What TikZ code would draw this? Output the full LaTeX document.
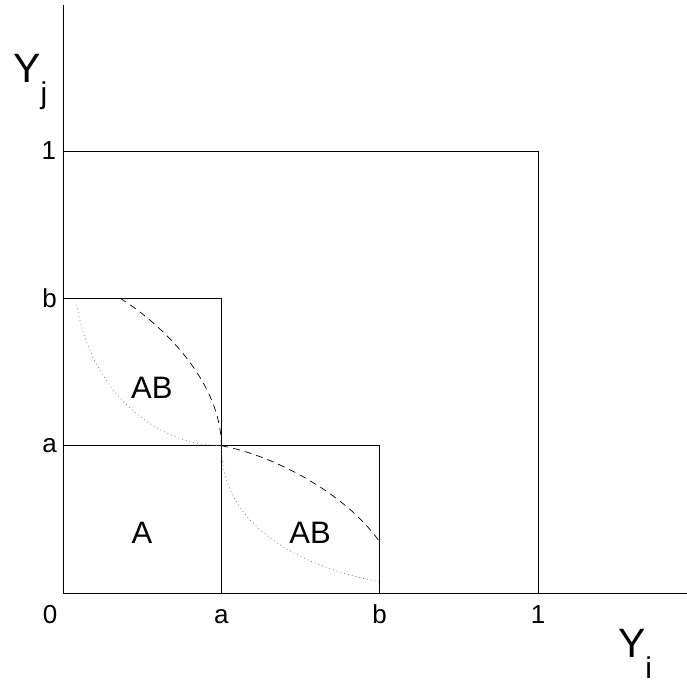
\documentclass[tikz,border=0pt]{standalone}
\usepackage{fontspec}
\setmainfont{Liberation Sans}
\usepackage{tikz}
\usetikzlibrary{positioning, calc}
\tikzset{
  frame/.style={line width=0.8pt, color=black},
  dashcurve/.style={line width=0.7pt, color=black, dash pattern=on 7pt off 5pt},
  dotcurve/.style={line width=0.7pt, color=black!60, dash pattern=on 0.7pt off 3.2pt},
  ticklbl/.style={inner sep=0pt, font=\fontsize{26}{26}\selectfont},
  region/.style={inner sep=0pt, font=\fontsize{31}{31}\selectfont},
  axislbl/.style={inner sep=0pt, anchor=base west, font=\fontsize{41}{41}\selectfont}
}
\newcommand{\axsub}[1]{\raisebox{-21pt}{\fontsize{30}{30}\selectfont #1}}

\begin{document}
\begin{tikzpicture}[x=475pt, y=442pt]
  \useasboundingbox (-0.13263,-0.20588) rectangle (1.31368,1.34163);
  % corner points
  \coordinate (O) at (0,0);
  \coordinate (aa) at (1/3,1/3);
  \coordinate (ab) at (1/3,2/3);
  \coordinate (ba) at (2/3,1/3);
  \coordinate (one) at (1,1);

  % axes
  \draw[frame] (O) -- (0,1.3303);
  \draw[frame] (O) -- (1.31368,0);

  % squares
  \draw[frame] (0,1) -| (1,0);
  \draw[frame] (0,2/3) -| (1/3,0);
  \draw[frame] (0,1/3) -| (2/3,0);

  % boundary curves
  \draw[dashcurve] (0.12,0.667) .. controls (0.22,0.60) and (0.333,0.47) .. (aa);
  \draw[dotcurve] (0.029,0.652) .. controls (0.06,0.45) and (0.2,0.333) .. (aa);
  \draw[dashcurve] (aa) .. controls (0.45,0.31) and (0.6,0.22) .. (0.667,0.115);
  \draw[dotcurve] (aa) .. controls (0.333,0.15) and (0.5,0.06) .. (0.667,0.025);

  % region labels
  \node[region] (abup) at (0.187,0.464) {AB};
  \node[region] (aonly) at (0.166,0.136) {A};
  \node[region] (ablow) at (0.52,0.136) {AB};

  % tick labels
  \node[ticklbl, anchor=base] (x0) at (-0.027,-0.0701) {0};
  \node[ticklbl, anchor=base] (xa) at (1/3,-0.0701) {a};
  \node[ticklbl, anchor=base] (xb) at (2/3,-0.0701) {b};
  \node[ticklbl, anchor=base] (x1) at (1,-0.0701) {1};
  \node[ticklbl] (ya) at (-0.028,1/3) {a};
  \node[ticklbl] (yb) at (-0.028,2/3) {b};
  \node[ticklbl] (y1) at (-0.030,1) {1};

  % axis labels
  \node[axislbl] (yj) at (-0.105,1.156) {Y\axsub{j}};
  \node[axislbl] (yi) at (1.168,-0.147) {Y\axsub{i}};
\end{tikzpicture}
\end{document}
